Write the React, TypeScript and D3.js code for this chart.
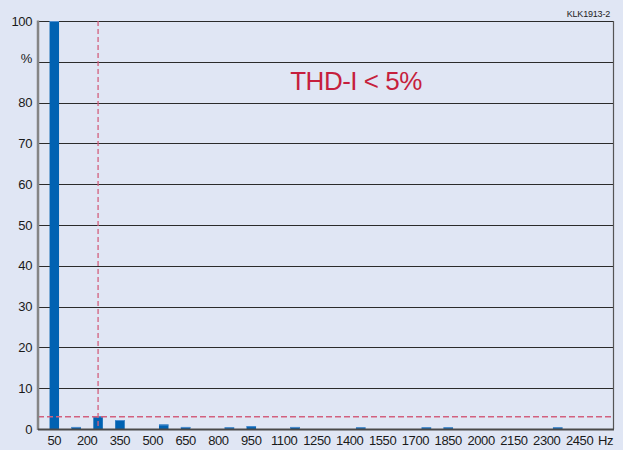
import React from "react";
import { scaleLinear, range } from "d3";

// harmonic spectrum, values in % of fundamental
const harmonicFreqs = [50, 150, 250, 350, 550, 650, 850, 950, 1150, 1450, 1750, 1850, 2350];
const harmonicValues = [100, 0.5, 3.1, 2.2, 1.1, 0.5, 0.4, 0.7, 0.5, 0.4, 0.4, 0.4, 0.4];
const xTickLabels = range(50, 2451, 150);
const yTickValues = range(0, 101, 10);
const limitValue = 3;
const limitFreq = 250;
const title = "THD-I < 5%";
const figureId = "KLK1913-2";

const W = 623;
const H = 450;
const left = 38;
const right = 613;
const top = 21;
const bottom = 429;

const font = "'Liberation Sans', Arial, sans-serif";

const App = () => {
    const x = scaleLinear().domain([50, 2450]).range([54.3, 579.6]);
    const y = scaleLinear().domain([0, 100]).range([bottom, top]);
    const barW = 9.5;

    return (
        <svg
            width={W}
            height={H}
            style={{ position: "absolute", left: 0, top: 0, display: "block" }}
        >
            <rect x={0} y={0} width={W} height={H} fill="#e0e6f4" />

            {/* grid lines */}
            {yTickValues.filter((v) => v > 0).map((v) => (
                <line
                    key={v}
                    x1={left}
                    x2={right}
                    y1={Math.round(y(v)) + 0.5}
                    y2={Math.round(y(v)) + 0.5}
                    stroke="#2b2b2b"
                    strokeWidth={1}
                />
            ))}

            {/* right border */}
            <line x1={right + 0.5} x2={right + 0.5} y1={top} y2={bottom} stroke="#555" strokeWidth={1.2} />

            {/* bars */}
            {harmonicFreqs.map((f, i) => (
                <g key={f}>
                    <rect
                        x={x(f) - barW / 2}
                        y={y(harmonicValues[i])}
                        width={barW}
                        height={bottom - y(harmonicValues[i])}
                        fill="#0062b2"
                    />
                    <rect
                        x={x(f) - barW / 2}
                        y={y(harmonicValues[i])}
                        width={barW}
                        height={1}
                        fill="#4f8fd0"
                    />
                </g>
            ))}

            {/* limit lines */}
            <line
                x1={left}
                x2={right}
                y1={y(limitValue)}
                y2={y(limitValue)}
                stroke="#d2607e"
                strokeWidth={1.3}
                strokeDasharray="6,3"
            />
            <line
                x1={x(limitFreq)}
                x2={x(limitFreq)}
                y1={top}
                y2={bottom}
                stroke="#d2607e"
                strokeWidth={1.3}
                strokeDasharray="5,3"
            />

            {/* axes */}
            <line x1={left} x2={left} y1={top - 0.5} y2={bottom + 1} stroke="#858585" strokeWidth={2.5} />
            <line x1={left} x2={right + 1} y1={bottom + 0.5} y2={bottom + 0.5} stroke="#4a4a4a" strokeWidth={1.8} />

            {/* y labels */}
            {yTickValues.map((v) => (
                <text
                    key={v}
                    x={32}
                    y={v === 90 ? y(v) - 3 : y(v)}
                    textAnchor="end"
                    dominantBaseline="central"
                    fontFamily={font}
                    fontSize={13}
                    letterSpacing={-0.4}
                    fill="#1a1a1a"
                >
                    {v === 90 ? "%" : v}
                </text>
            ))}

            {/* x labels */}
            {xTickLabels.map((f) => (
                <text
                    key={f}
                    x={x(f)}
                    y={445}
                    textAnchor="middle"
                    fontFamily={font}
                    fontSize={13}
                    letterSpacing={-0.4}
                    fill="#1a1a1a"
                >
                    {f}
                </text>
            ))}
            <text x={598} y={445} fontFamily={font} fontSize={13} letterSpacing={-0.4} fill="#1a1a1a">
                Hz
            </text>

            {/* title and figure id */}
            <text
                x={356}
                y={90}
                textAnchor="middle"
                fontFamily={font}
                fontSize={26}
                letterSpacing={-0.5}
                fill="#c61f3d"
            >
                {title}
            </text>
            <text
                x={610}
                y={16.5}
                textAnchor="end"
                fontFamily={font}
                fontSize={9}
                letterSpacing={-0.2}
                fill="#222"
            >
                {figureId}
            </text>
        </svg>
    );
};

export default App;
